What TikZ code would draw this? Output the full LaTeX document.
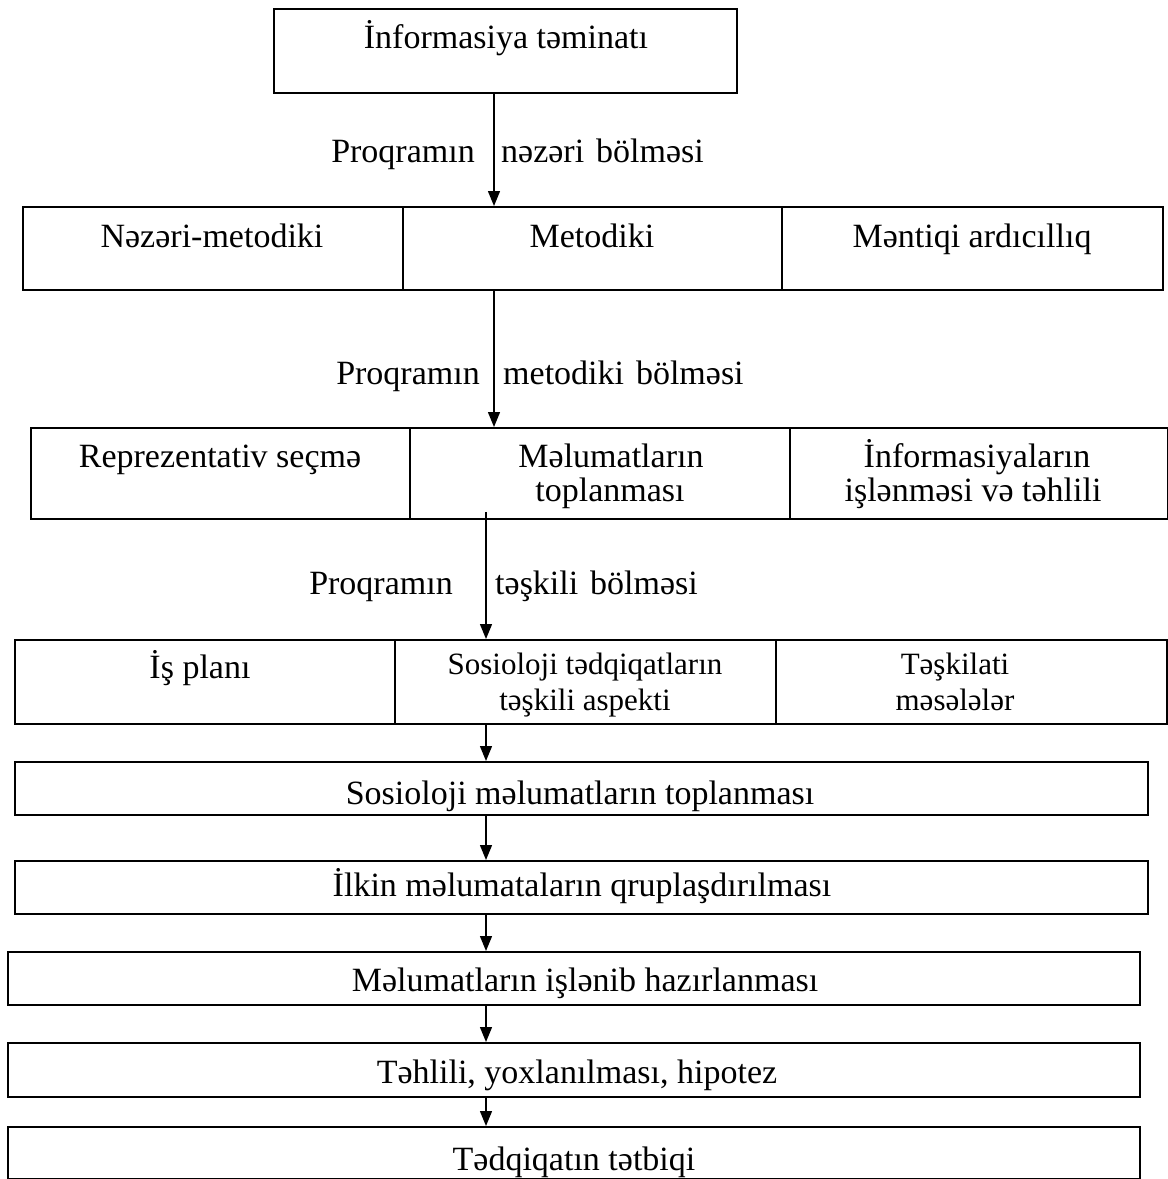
\documentclass[tikz,border=0pt]{standalone}
\usepackage{fontspec}
\setmainfont{Liberation Serif}
\usetikzlibrary{arrows.meta,calc}
\begin{document}
\begin{tikzpicture}[x=1pt,y=-1pt,
  box/.style={draw, line width=1.8pt, inner sep=0pt, anchor=north west},
  txt/.style={inner sep=0pt, anchor=base, font=\fontsize{34}{40}\selectfont},
  stxt/.style={inner sep=0pt, anchor=base, font=\fontsize{31}{36}\selectfont},
  lblr/.style={inner sep=0pt, anchor=base east, font=\fontsize{34}{40}\selectfont},
  lbll/.style={inner sep=0pt, anchor=base west, font=\fontsize{34}{40}\selectfont},
  arr/.style={line width=1.4pt, -{Triangle[length=15pt,width=12pt]}},
  divline/.style={line width=1.4pt}]
\useasboundingbox (0,0) rectangle (1168,1179);

% boxes
\node[box, minimum width=463pt, minimum height=84pt] (top) at (273,8) {};
\node[box, minimum width=1140pt, minimum height=83pt] (r1) at (22,206) {};
\node[box, minimum width=1137pt, minimum height=91pt] (r2) at (30,427) {};
\node[box, minimum width=1152pt, minimum height=84pt] (r3) at (14,639) {};
\node[box, minimum width=1133pt, minimum height=53pt] (b4) at (14,761) {};
\node[box, minimum width=1133pt, minimum height=53pt] (b5) at (14,860) {};
\node[box, minimum width=1132pt, minimum height=53pt] (b6) at (7,951) {};
\node[box, minimum width=1132pt, minimum height=54pt] (b7) at (7,1042) {};
\node[box, minimum width=1132pt, minimum height=52pt] (b8) at (7,1126) {};

% dividers
\coordinate (d11) at (403,0); \coordinate (d12) at (782,0);
\coordinate (d21) at (410,0); \coordinate (d22) at (790,0);
\coordinate (d31) at (395,0); \coordinate (d32) at (776,0);
\draw[divline] (r1.north -| d11) -- (r1.south -| d11);
\draw[divline] (r1.north -| d12) -- (r1.south -| d12);
\draw[divline] (r2.north -| d21) -- (r2.south -| d21);
\draw[divline] (r2.north -| d22) -- (r2.south -| d22);
\draw[divline] (r3.north -| d31) -- (r3.south -| d31);
\draw[divline] (r3.north -| d32) -- (r3.south -| d32);

% texts
\node[txt] (ttop) at (506,48) {İnformasiya təminatı};
\node[txt] (t11) at (212,247) {Nəzəri-metodiki};
\node[txt] (t12) at (592,247) {Metodiki};
\node[txt] (t13) at (972,247) {Məntiqi ardıcıllıq};
\node[txt] (t21) at (220,467) {Reprezentativ seçmə};
\node[txt] (t22a) at (611,467) {Məlumatların};
\node[txt] (t22b) at (610,501) {toplanması};
\node[txt] (t23a) at (977,467) {İnformasiyaların};
\node[txt] (t23b) at (973,501) {işlənməsi və təhlili};
\node[txt] (t31) at (200,678) {İş planı};
\node[stxt] (t32a) at (585,674) {Sosioloji tədqiqatların};
\node[stxt] (t32b) at (585,710) {təşkili aspekti};
\node[stxt] (t33a) at (955,674) {Təşkilati};
\node[stxt] (t33b) at (955,710) {məsələlər};
\node[txt] (t4) at (580,804) {Sosioloji məlumatların toplanması};
\node[txt] (t5) at (582,896) {İlkin məlumataların qruplaşdırılması};
\node[txt] (t6) at (585,991) {Məlumatların işlənib hazırlanması};
\node[txt] (t7) at (577,1083) {Təhlili, yoxlanılması, hipotez};
\node[txt] (t8) at (574,1170) {Tədqiqatın tətbiqi};

% labels
\node[lblr] (l1a) at (475,162) {Proqramın};
\node[lbll] (l1b) at (501,162) {nəzəri\hspace{0.35em}bölməsi};
\node[lblr] (l2a) at (480,384) {Proqramın};
\node[lbll] (l2b) at (503,384) {metodiki\hspace{0.35em}bölməsi};
\node[lblr] (l3a) at (453,594) {Proqramın};
\node[lbll] (l3b) at (495,594) {təşkili\hspace{0.35em}bölməsi};

% arrows
\coordinate (ax1) at (494,0);
\coordinate (ax3) at (486,0);
\draw[arr] (top.south -| ax1) -- (r1.north -| ax1);
\draw[arr] (r1.south -| ax1) -- (r2.north -| ax1);
\draw[arr] ([yshift=8pt]r2.south -| ax3) -- (r3.north -| ax3);
\draw[arr] (r3.south -| ax3) -- (b4.north -| ax3);
\draw[arr] (b4.south -| ax3) -- (b5.north -| ax3);
\draw[arr] (b5.south -| ax3) -- (b6.north -| ax3);
\draw[arr] (b6.south -| ax3) -- (b7.north -| ax3);
\draw[arr] (b7.south -| ax3) -- (b8.north -| ax3);
\end{tikzpicture}
\end{document}
